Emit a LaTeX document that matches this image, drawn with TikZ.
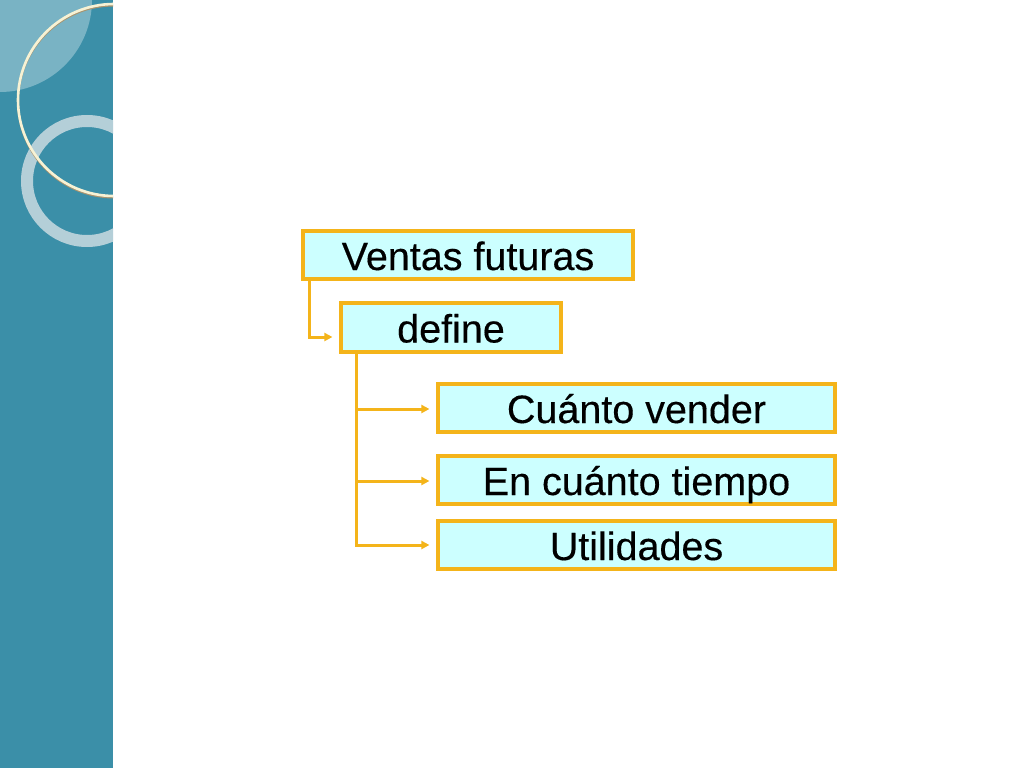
\documentclass[tikz,border=0pt]{standalone}
\usepackage{fontspec}
\setmainfont{Liberation Sans}
\newfontfamily\boxfont{Liberation Sans}[FakeBold=0.35]
\usetikzlibrary{arrows.meta}
\definecolor{bandteal}{HTML}{3B8FA8}
\definecolor{bandlight}{HTML}{79B3C4}
\definecolor{ringgray}{HTML}{B4CFD8}
\definecolor{creamline}{HTML}{F7F2D4}
\definecolor{creamshadow}{HTML}{A89470}
\definecolor{boxfill}{HTML}{CCFFFF}
\definecolor{boxedge}{HTML}{F4B41A}
\tikzset{
  box/.style={draw=boxedge, fill=boxfill, line width=3.2pt, inner sep=0pt,
    text height=30pt, text depth=0pt, minimum height=48pt,
    font=\boxfont\fontsize{39.5}{45}\selectfont, text=black},
  conn/.style={draw=boxedge, line width=3pt,
    -{Triangle[length=8pt,width=8pt]}}
}
\begin{document}
\begin{tikzpicture}[x=1pt,y=-1pt]
\useasboundingbox (0,0) rectangle (1024,768);
\fill[white] (0,0) rectangle (1024,768);
% left band
\fill[bandteal] (0,0) rectangle (113,768);
\begin{scope}
  \clip (0,0) rectangle (113,768);
  \fill[bandlight] (0,0) circle[radius=92];
  \draw[ringgray, line width=12pt] (87,181) circle[radius=60];
  \draw[creamshadow, line width=2pt] (114,101.5) circle[radius=96];
  \draw[creamline, line width=2.6pt] (114,100) circle[radius=96];
\end{scope}
% boxes
\node[box, minimum width=330pt] (vf) at (468,255) {Ventas futuras};
\node[box, minimum width=220pt, minimum height=49pt] (def) at (451,327.5) {define};
\node[box, minimum width=397pt] (cv) at (636.5,408) {Cuánto vender};
\node[box, minimum width=397pt] (ect) at (636.5,480) {En cuánto tiempo};
\node[box, minimum width=397pt] (ut) at (636.5,545) {Utilidades};
% connectors
\draw[conn] ([xshift=8pt]vf.south west) |- ([xshift=-7pt,yshift=-9.5pt]def.west);
\coordinate (trunk) at ([xshift=17pt]def.south west);
\draw[conn] (trunk) |- ([xshift=-7pt]ut.west);
\draw[conn] (trunk) |- ([xshift=-7pt,yshift=-1pt]cv.west);
\draw[conn] (trunk) |- ([xshift=-7pt,yshift=-1pt]ect.west);
\end{tikzpicture}
\end{document}
